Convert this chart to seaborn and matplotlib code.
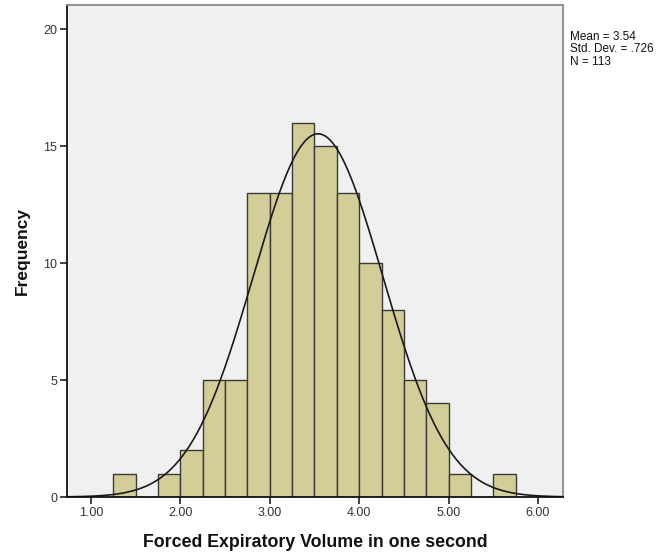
import numpy as np
import pandas as pd
import seaborn as sns
import matplotlib
matplotlib.use("Agg")
import matplotlib.pyplot as plt

bin_left_edges = [1.25, 1.50, 1.75, 2.00, 2.25, 2.50, 2.75, 3.00, 3.25,
                  3.50, 3.75, 4.00, 4.25, 4.50, 4.75, 5.00, 5.25, 5.50]
counts = [1, 0, 1, 2, 5, 5, 13, 13, 16, 15, 13, 10, 8, 5, 4, 1, 0, 1]
bin_width = 0.25
mean_val = 3.54
std_val = 0.726
n_val = 113
x_ticks = [1.0, 2.0, 3.0, 4.0, 5.0, 6.0]
x_tick_labels = ["1.00", "2.00", "3.00", "4.00", "5.00", "6.00"]
y_ticks = [0, 5, 10, 15, 20]

sns.set_theme(style="white")
plt.rcParams['font.family'] = ['Liberation Sans', 'DejaVu Sans']

fig = plt.figure(figsize=(6.66, 5.56), dpi=100)
ax = fig.add_axes([67/666, 1-497/556, (563-67)/666, (497-5)/556])
ax.set_facecolor("#F0F0F0")

df = pd.DataFrame({"center": np.array(bin_left_edges) + bin_width/2, "count": counts})
edges = list(bin_left_edges) + [bin_left_edges[-1] + bin_width]
sns.histplot(data=df, x="center", weights="count", bins=edges, ax=ax,
             color="#D3CE97", alpha=1.0, edgecolor="#3a3a3a", linewidth=1.0)

xs = np.linspace(0.73, 6.28, 400)
pdf = n_val * bin_width / (std_val * np.sqrt(2*np.pi)) * np.exp(-0.5*((xs-mean_val)/std_val)**2)
sns.lineplot(x=xs, y=pdf, ax=ax, color="#1a1a1a", linewidth=1.2)

ax.set_xlim(0.732, 6.28)
ax.set_ylim(0, 21.03)
ax.set_xticks(x_ticks)
ax.set_xticklabels(x_tick_labels)
ax.set_yticks(y_ticks)
ax.tick_params(axis="both", direction="out", length=5, width=1.2, colors="#222222",
               labelsize=9, labelcolor="#333333", pad=2, left=True, bottom=True)
for s in ["left", "bottom"]:
    ax.spines[s].set_color("#111111")
    ax.spines[s].set_linewidth(1.3)
for s in ["top", "right"]:
    ax.spines[s].set_color("#888888")
    ax.spines[s].set_linewidth(1.3)

ax.set_xlabel("Forced Expiratory Volume in one second", fontsize=12.75, fontweight="bold",
              color="#111111", labelpad=11)
ax.set_ylabel("Frequency", fontsize=12.5, fontweight="bold", color="#111111", labelpad=10)

fig.text(570/666, 1-31/556, "Mean = 3.54\nStd. Dev. = .726\nN = 113", fontsize=8.5,
         va="top", ha="left", color="#111111", linespacing=1.05)

fig.savefig("out.png", dpi=100)
